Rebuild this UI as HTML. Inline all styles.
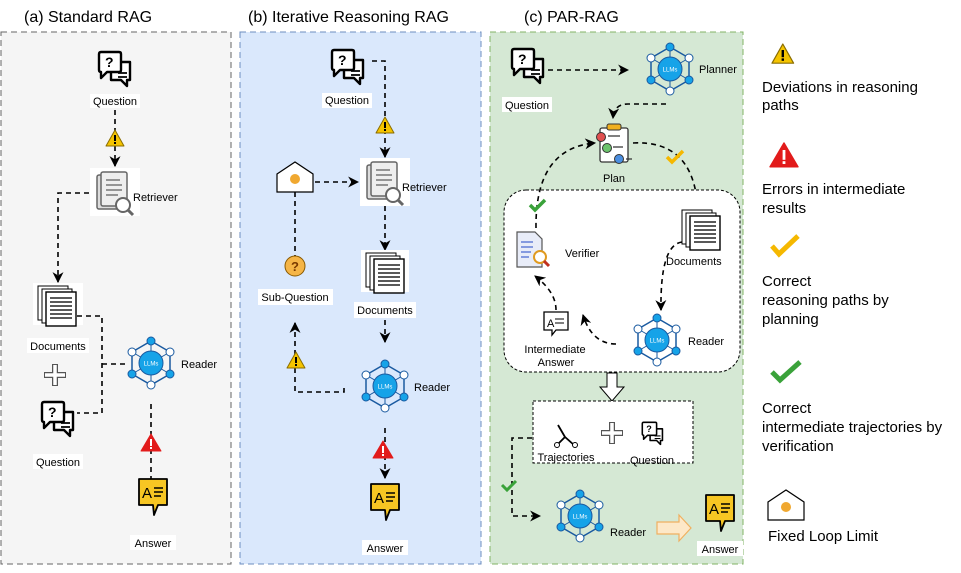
<!DOCTYPE html>
<html><head><meta charset="utf-8"><style>
html,body{margin:0;padding:0;background:#fff}
svg{display:block;font-family:"Liberation Sans",sans-serif}
.l{font-size:11px;fill:#000}
.lg{font-size:15px;fill:#000}
.t{font-size:16px;fill:#000}
.d{fill:none;stroke:#000;stroke-width:1.6;stroke-dasharray:5 4}
</style></head><body>
<svg width="961" height="573" viewBox="0 0 961 573" xmlns="http://www.w3.org/2000/svg">
<defs>
<marker id="ar" viewBox="0 0 10 10" refX="9" refY="5" markerWidth="11" markerHeight="11" orient="auto" markerUnits="userSpaceOnUse"><path d="M0,0 L10,5 L0,10 L3,5z" fill="#000"/></marker>
<g id="q">
 <path d="M14,12 H33 V30 H30 V36 L24,30 H14z" fill="#fff" stroke="#000" stroke-width="2.4" stroke-linejoin="round"/>
 <path d="M4,2 H22 Q24,2 24,4 V20 Q24,22 22,22 H10 L4,28 V22 Q2,22 2,20 V4 Q2,2 4,2z" fill="#fff" stroke="#000" stroke-width="2.4" stroke-linejoin="round"/>
 <text x="8" y="17" font-size="14" font-weight="bold" font-family="Liberation Sans">?</text>
 <path d="M21,23 H30 M21,27 H30" stroke="#000" stroke-width="1.8"/>
</g>
<g id="warn"><path d="M0,16 L9,0 L18,16z" fill="#f5c400" stroke="#8a6d00" stroke-width="1" stroke-linejoin="round"/><rect x="8" y="5" width="2" height="6" fill="#000"/><rect x="8" y="12" width="2" height="2" fill="#000"/></g>
<g id="err"><path d="M0,17 L10,0 L20,17z" fill="#e21b1b" stroke="#e21b1b" stroke-linejoin="round"/><rect x="9" y="5" width="2" height="7" fill="#fff"/><rect x="9" y="13" width="2" height="2" fill="#fff"/></g>
<g id="llm">
 <polygon points="0,-22 19,-11 19,11 0,22 -19,11 -19,-11" fill="none" stroke="#1a5aa0" stroke-width="1.5"/>
 <path d="M0,-22 L0,22 M-19,-11 L19,11 M19,-11 L-19,11" stroke="#1a5aa0" stroke-width="1"/>
 <circle r="12" fill="#16a3e8" stroke="#1a5aa0"/>
 <text x="0" y="2.5" font-size="6" fill="#fff" text-anchor="middle" font-family="Liberation Sans">LLMs</text>
 <circle cx="0" cy="-22" r="4" fill="#16a3e8" stroke="#1a5aa0"/><circle cx="0" cy="22" r="4" fill="#fff" stroke="#1a5aa0"/>
 <circle cx="19" cy="-11" r="4" fill="#fff" stroke="#1a5aa0"/><circle cx="-19" cy="-11" r="4" fill="#fff" stroke="#1a5aa0"/>
 <circle cx="19" cy="11" r="4" fill="#16a3e8" stroke="#1a5aa0"/><circle cx="-19" cy="11" r="4" fill="#16a3e8" stroke="#1a5aa0"/>
</g>
<g id="docs">
 <rect x="0" y="0" width="30" height="34" fill="#fff" stroke="#000"/>
 <rect x="4" y="3" width="30" height="34" fill="#fff" stroke="#000"/>
 <rect x="8" y="6" width="30" height="34" fill="#fff" stroke="#000" stroke-width="1.4"/>
 <path d="M12,12h22M12,16h22M12,20h22M12,24h22M12,28h22M12,32h22" stroke="#222" stroke-width="1.5"/>
</g>
<g id="ret">
 <rect x="0" y="3" width="26" height="34" rx="2" fill="#ddd" stroke="#666" stroke-width="1.5"/>
 <rect x="4" y="0" width="26" height="34" rx="2" fill="#eee" stroke="#666" stroke-width="1.5"/>
 <path d="M9,8h14M9,13h16M9,18h16M9,23h12" stroke="#777" stroke-width="1.5"/>
 <circle cx="26" cy="33" r="7" fill="#fff" stroke="#666" stroke-width="2"/><path d="M31,38 l5,5" stroke="#666" stroke-width="3"/>
</g>
<g id="ans">
 <path d="M1,1 h28 v26 h-9 l-4,10 l-1,-10 h-14z" fill="#f7c623" stroke="#000" stroke-width="1.8" stroke-linejoin="round"/>
 <text x="4" y="20" font-size="15" font-family="Liberation Sans">A</text><path d="M16,10h9M16,14h9M16,18h7" stroke="#000" stroke-width="1.5"/>
</g>
<g id="loop"><path d="M0,12 L18,0 L36,12 V30 H0z" fill="#fff" stroke="#000" stroke-width="1.2"/><circle cx="18" cy="17" r="5" fill="#f0a830"/></g>
<g id="plus"><path d="M0,-11 V11 M-11,0 H11" stroke="#555" stroke-width="6"/><path d="M0,-10 V10 M-10,0 H10" stroke="#fff" stroke-width="3.5"/></g>
</defs>

<rect x="1" y="32" width="230" height="532" fill="#f5f5f5" stroke="#666" stroke-dasharray="6 4"/>
<rect x="240" y="32" width="241" height="532" fill="#dae8fc" stroke="#6c8ebf" stroke-dasharray="6 4"/>
<rect x="490" y="32" width="253" height="532" fill="#d5e8d4" stroke="#82b366" stroke-dasharray="6 4"/>
<text class="t" x="24" y="22">(a) Standard RAG</text>
<text class="t" x="248" y="22">(b) Iterative Reasoning RAG</text>
<text class="t" x="524" y="22">(c) PAR-RAG</text>

<!-- (a) -->
<use href="#q" x="97" y="50"/>
<rect x="90" y="94" width="50" height="14" fill="#fff"/><text class="l" x="115" y="105" text-anchor="middle">Question</text>
<path class="d" d="M115,110 V166" marker-end="url(#ar)"/>
<use href="#warn" x="106" y="130"/>
<rect x="90" y="168" width="50" height="48" fill="#fff"/><use href="#ret" x="97" y="172"/>
<text class="l" x="133" y="201">Retriever</text>
<path class="d" d="M89,193 H58 V282" marker-end="url(#ar)"/>
<rect x="33" y="283" width="50" height="42" fill="#fff"/><use href="#docs" x="38" y="286"/>
<rect x="27" y="338" width="62" height="15" fill="#fff"/><text class="l" x="58" y="350" text-anchor="middle">Documents</text>
<use href="#plus" x="55" y="375"/>
<use href="#q" x="40" y="400"/>
<rect x="33" y="454" width="50" height="15" fill="#fff"/><text class="l" x="58" y="466" text-anchor="middle">Question</text>
<path class="d" d="M77,316 H102 V413 H77 M102,364 H128"/>
<use href="#llm" x="151" y="363"/>
<text class="l" x="181" y="368">Reader</text>
<path class="d" d="M151,404 V500" marker-end="url(#ar)"/>
<use href="#err" x="141" y="434"/>
<use href="#ans" x="138" y="478"/>
<rect x="130" y="535" width="46" height="15" fill="#fff"/><text class="l" x="153" y="547" text-anchor="middle">Answer</text>

<!-- (b) -->
<use href="#q" x="330" y="48"/>
<rect x="322" y="93" width="50" height="15" fill="#fff"/><text class="l" x="347" y="104" text-anchor="middle">Question</text>
<path class="d" d="M372,61 H385 V157" marker-end="url(#ar)"/>
<use href="#warn" x="376" y="117"/>
<rect x="360" y="158" width="50" height="48" fill="#fff"/><use href="#ret" x="367" y="162"/>
<text class="l" x="402" y="191">Retriever</text>
<use href="#loop" x="277" y="162"/>
<path class="d" d="M315,182 H358" marker-end="url(#ar)"/>
<path class="d" d="M295,192 V258"/>
<circle cx="295" cy="266" r="10" fill="#f5b547" stroke="#8a5a00"/><text x="295" y="271" font-size="13" font-weight="bold" text-anchor="middle" fill="#7a3a00">?</text>
<rect x="258" y="289" width="75" height="16" fill="#fff"/><text class="l" x="295" y="301" text-anchor="middle">Sub-Question</text>
<path class="d" d="M344,388 V392 H295 V323" marker-end="url(#ar)"/>
<use href="#warn" x="287" y="352"/>
<path class="d" d="M385,206 V250" marker-end="url(#ar)"/>
<rect x="361" y="250" width="48" height="42" fill="#fff"/><use href="#docs" x="366" y="253"/>
<rect x="354" y="302" width="62" height="16" fill="#fff"/><text class="l" x="385" y="314" text-anchor="middle">Documents</text>
<path class="d" d="M385,320 V342" marker-end="url(#ar)"/>
<use href="#llm" x="385" y="386"/>
<text class="l" x="414" y="391">Reader</text>
<path class="d" d="M385,428 V478" marker-end="url(#ar)"/>
<use href="#err" x="373" y="441"/>
<use href="#ans" x="370" y="483"/>
<rect x="362" y="540" width="46" height="15" fill="#fff"/><text class="l" x="385" y="552" text-anchor="middle">Answer</text>

<!-- (c) -->
<use href="#q" x="510" y="47"/>
<rect x="502" y="97" width="50" height="15" fill="#fff"/><text class="l" x="527" y="109" text-anchor="middle">Question</text>
<path class="d" d="M548,70 H628" marker-end="url(#ar)"/>
<use href="#llm" x="670" y="69"/>
<text class="l" x="699" y="73">Planner</text>
<path class="d" d="M666,104 H628 Q614,104 613,118" marker-end="url(#ar)"/>
<rect x="600" y="128" width="28" height="34" rx="2" fill="#fff" stroke="#333" stroke-width="1.3"/>
<rect x="607" y="124" width="14" height="6" rx="2" fill="#f0b020" stroke="#333"/>
<circle cx="601" cy="137" r="4.5" fill="#e05050" stroke="#333"/><circle cx="607" cy="148" r="4.5" fill="#6cc36c" stroke="#333"/><circle cx="619" cy="159" r="4.5" fill="#4a8ee0" stroke="#333"/>
<path d="M608,136h12M613,147h10M626,159h6" stroke="#333" stroke-width="1.3"/>
<text class="l" x="614" y="182" text-anchor="middle">Plan</text>
<path class="d" d="M633,143 Q690,140 697,200" marker-end="url(#ar)"/>
<path d="M667,157 L672,162 L683,151" fill="none" stroke="#f5b800" stroke-width="3.5"/>
<rect x="504" y="190" width="236" height="182" rx="22" fill="#fff" stroke="#000" stroke-dasharray="3 2"/>
<use href="#docs" x="682" y="210"/>
<text class="l" x="666" y="265">Documents</text>
<path class="d" d="M682,242 Q660,245 661,310" marker-end="url(#ar)"/>
<use href="#llm" x="657" y="340"/>
<text class="l" x="688" y="345">Reader</text>
<path class="d" d="M616,344 Q592,344 583,315" marker-end="url(#ar)"/>
<path d="M544,312 h24 v18 h-12 l-4,5 v-5 h-8z" fill="#fff" stroke="#000" stroke-width="1.3"/>
<text x="547" y="327" font-size="11">A</text><path d="M555,319h9M555,323h9" stroke="#000"/>
<text class="l" x="555" y="353" text-anchor="middle">Intermediate</text>
<text class="l" x="556" y="366" text-anchor="middle">Answer</text>
<path class="d" d="M556,310 Q556,292 535,276" marker-end="url(#ar)"/>
<path d="M517,232 h18 l7,7 v28 h-25z" fill="#e8ecf8" stroke="#555" stroke-width="1.2"/>
<path d="M521,242h12M521,247h12M521,252h10M521,257h8" stroke="#4a6ad0" stroke-width="1.3"/>
<circle cx="540" cy="257" r="6" fill="#fff" stroke="#e09a20" stroke-width="2"/><path d="M544,261 l5,5" stroke="#c03020" stroke-width="3"/>
<text class="l" x="565" y="257">Verifier</text>
<path class="d" d="M536,228 Q535,148 595,143" marker-end="url(#ar)"/>
<path d="M530,205 L535,210 L545,200" fill="none" stroke="#3aa23a" stroke-width="3.5"/>
<path d="M607,373 h10 v14 h7 l-12,14 l-12,-14 h7z" fill="#fff" stroke="#000"/>
<rect x="533" y="401" width="160" height="62" fill="#fff" stroke="#000" stroke-dasharray="3 2"/>
<g stroke="#000" stroke-width="1.8" fill="none"><path d="M558,425 L565,437 L557,445 M565,437 L574,445"/></g>
<circle cx="557" cy="445" r="2.5" fill="#fff" stroke="#000"/><circle cx="575" cy="445" r="2.5" fill="#fff" stroke="#000"/>
<text class="l" x="566" y="461" text-anchor="middle">Trajectories</text>
<use href="#plus" x="612" y="433"/>
<g transform="translate(641,421) scale(0.65)"><use href="#q"/></g>
<text class="l" x="652" y="464" text-anchor="middle">Question</text>
<path class="d" d="M532,438 H512 V516 H540" marker-end="url(#ar)"/>
<path d="M502,485 L507,490 L516,481" fill="none" stroke="#3aa23a" stroke-width="3"/>
<use href="#llm" x="580" y="516"/>
<text class="l" x="610" y="536">Reader</text>
<path d="M657,522 h22 v-7 l12,13 l-12,13 v-7 h-22z" fill="#fde8c8" stroke="#f0b060" stroke-width="1.2"/>
<use href="#ans" x="705" y="494"/>
<rect x="697" y="541" width="46" height="15" fill="#fff"/><text class="l" x="720" y="553" text-anchor="middle">Answer</text>

<!-- legend -->
<g transform="translate(772,44) scale(1.2)"><use href="#warn"/></g>
<text class="lg" x="762" y="92">Deviations in reasoning</text>
<text class="lg" x="762" y="110">paths</text>
<g transform="translate(770,143) scale(1.4)"><use href="#err"/></g>
<text class="lg" x="762" y="194">Errors in intermediate</text>
<text class="lg" x="762" y="213">results</text>
<path d="M772,246 L779,254 L798,236" fill="none" stroke="#f5b800" stroke-width="5"/>
<text class="lg" x="762" y="286">Correct</text>
<text class="lg" x="762" y="305">reasoning paths by</text>
<text class="lg" x="762" y="324">planning</text>
<path d="M772,372 L780,380 L800,362" fill="none" stroke="#3aa23a" stroke-width="5"/>
<text class="lg" x="762" y="413">Correct</text>
<text class="lg" x="762" y="432">intermediate trajectories by</text>
<text class="lg" x="762" y="451">verification</text>
<use href="#loop" x="768" y="490"/>
<text class="lg" x="768" y="541">Fixed Loop Limit</text>
</svg></body></html>
